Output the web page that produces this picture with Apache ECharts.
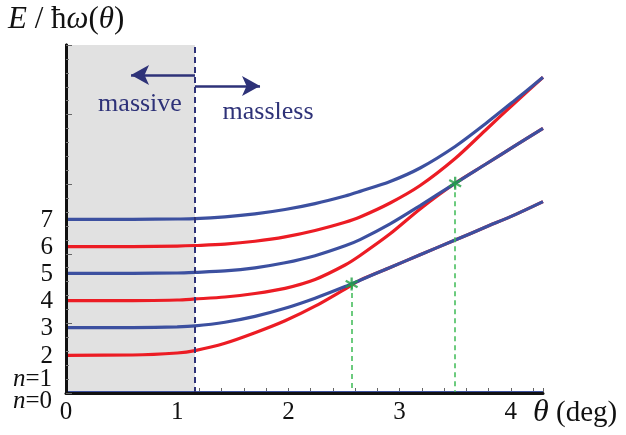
<!DOCTYPE html>
<html><head><meta charset="utf-8">
<script src="https://cdn.jsdelivr.net/npm/echarts@6/dist/echarts.min.js"></script>
<style>html,body{margin:0;padding:0;background:#fff}#c{width:626px;height:435px}</style>
</head><body><div id="c"></div>
<script>
// ---- data ----
const thetaDeg = [0, 0.6, 1.0, 1.16, 1.43, 1.7, 1.97, 2.24, 2.51, 2.645, 2.915, 3.185, 3.5, 3.77, 4.04, 4.29];
const level7 = [2.496, 2.496, 2.500, 2.504, 2.530, 2.573, 2.636, 2.721, 2.830, 2.897, 3.039, 3.233, 3.542, 3.865, 4.210, 4.536];
const level6 = [2.102, 2.103, 2.111, 2.119, 2.139, 2.180, 2.243, 2.335, 2.454, 2.529, 2.730, 2.981, 3.369, 3.772, 4.174, 4.536];
const level5 = [1.720, 1.720, 1.724, 1.733, 1.754, 1.799, 1.871, 1.973, 2.115, 2.204, 2.430, 2.693, 3.013, 3.283, 3.553, 3.803];
const level4 = [1.326, 1.328, 1.336, 1.351, 1.379, 1.430, 1.504, 1.631, 1.839, 1.976, 2.287, 2.644, 3.013, 3.283, 3.553, 3.803];
const level3 = [0.938, 0.940, 0.951, 0.964, 1.017, 1.101, 1.217, 1.362, 1.529, 1.621, 1.803, 1.986, 2.198, 2.381, 2.563, 2.749];
const level2 = [0.542, 0.546, 0.575, 0.609, 0.714, 0.865, 1.037, 1.247, 1.494, 1.621, 1.803, 1.986, 2.198, 2.381, 2.563, 2.749];
const groundTheta = [0, 4.29];
const level1 = [0, 0];
const level0 = [0, 0];
const starTheta = [2.569, 3.50];
const starE = [1.566, 3.013];
const boundaryTheta = 1.16;
const xTicks = ['0', '1', '2', '3', '4'];
const levelLabels = ['7', '6', '5', '4', '3', '2'];

// ---- build ----
const BLUE = '#3c50a0', RED = '#ec1c24', NAVY = '#2e3278', GREEN = '#22a045';
const FONT = 'Liberation Serif';
const pair = (xs, ys) => xs.map((x, i) => [x, ys[i]]);
const starPath = 'path://M-1,-6L1,-6L1,6L-1,6Z M4.696,-3.866L5.696,-2.134L-4.696,3.866L-5.696,2.134Z M5.696,2.134L4.696,3.866L-5.696,-2.134L-4.696,-3.866Z';

function curve(name, ys, color, z) {
  return { name, type: 'line', data: pair(thetaDeg, ys), smooth: 0.3,
    showSymbol: false, symbol: 'none', z, lineStyle: { color, width: 3.2 } };
}

const chart = echarts.init(document.getElementById('c'), null, { renderer: 'canvas' });
chart.setOption({
  animation: false,
  backgroundColor: '#fff',
  grid: { left: 66, right: 83, top: 45, bottom: 42 },
  xAxis: [
    { type: 'value', position: 'bottom', min: 0, max: 4.29, interval: 0.2,
      axisLine: { show: true, lineStyle: { color: '#111', width: 2 } },
      axisTick: { show: true, inside: true, length: 5, lineStyle: { color: '#666' } },
      splitLine: { show: false },
      axisLabel: { margin: 7, fontFamily: FONT, fontSize: 25, color: '#111',
        formatter: v => { const r = Math.round(v); return Math.abs(v - r) < 1e-6 && xTicks[r] !== undefined ? xTicks[r] : ''; } } },
    { type: 'value', position: 'top', min: 0, max: 4.29, z: 10,
      axisLine: { show: true, lineStyle: { color: '#111', width: 3 } },
      axisTick: { show: false }, axisLabel: { show: false }, splitLine: { show: false } }
  ],
  yAxis: [
    { type: 'value', position: 'left', min: 0, max: 5, interval: 1, z: 10,
      axisLine: { show: true, lineStyle: { color: '#111', width: 3 } },
      axisTick: { show: true, inside: true, length: 6, lineStyle: { color: '#666' } },
      minorTick: { show: true, splitNumber: 5, length: 3, lineStyle: { color: '#777' } },
      axisLabel: { show: false }, splitLine: { show: false } },
    { type: 'value', position: 'right', min: 0, max: 5, z: 10,
      axisLine: { show: true, lineStyle: { color: '#111', width: 3 } },
      axisTick: { show: false }, axisLabel: { show: false }, splitLine: { show: false } }
  ],
  series: [
    { name: 'n=0', type: 'line', data: pair(groundTheta, level0), showSymbol: false, symbol: 'none',
      clip: false, z: 1, lineStyle: { color: RED, width: 4 },
      markArea: { silent: true, itemStyle: { color: '#e1e1e1' }, data: [[{ xAxis: 0 }, { xAxis: boundaryTheta }]] },
      markLine: { silent: true, symbol: 'none', label: { show: false },
        lineStyle: { color: NAVY, type: [6, 4], width: 2 }, data: [{ xAxis: boundaryTheta }] } },
    curve('2', level2, RED, 2),
    curve('4', level4, RED, 2),
    curve('6', level6, RED, 2),
    curve('3', level3, BLUE, 3),
    curve('5', level5, BLUE, 3),
    curve('7', level7, BLUE, 3),
    { name: 'n=1', type: 'line', data: pair(groundTheta, level1), showSymbol: false, symbol: 'none',
      clip: true, z: 3, lineStyle: { color: BLUE, width: 4 },
      markLine: { silent: true, symbol: ['none', 'arrow'], symbolSize: [15, 18], label: { show: false },
        lineStyle: { color: NAVY, type: 'solid', width: 2.5 },
        data: [
          [{ coord: [boundaryTheta, 4.569] }, { coord: [0.585, 4.569] }],
          [{ coord: [boundaryTheta, 4.411] }, { coord: [1.745, 4.411] }]
        ] } },
    { name: 'crossing', type: 'scatter', data: pair(starTheta, starE), symbol: starPath, symbolSize: 13,
      z: 6, itemStyle: { color: GREEN },
      markLine: { silent: true, symbol: 'none', label: { show: false },
        lineStyle: { color: '#3cba54', type: [5, 4], width: 1.5 },
        data: starTheta.map((t, i) => [{ coord: [t, starE[i]] }, { coord: [t, 0] }]) } }
  ]
});

// ---- text annotations ----
const levelStarts = [level7[0], level6[0], level5[0], level4[0], level3[0], level2[0]];
const g = [];
levelLabels.forEach((lab, i) => {
  const p = chart.convertToPixel({ xAxisIndex: 0, yAxisIndex: 0 }, [0, levelStarts[i]]);
  g.push({ type: 'text', x: p[0] - 13, y: p[1] + 1, z: 20,
    style: { text: lab, fontFamily: FONT, fontSize: 25, fill: '#111', align: 'right', verticalAlign: 'middle' } });
});
const p0 = chart.convertToPixel({ xAxisIndex: 0, yAxisIndex: 0 }, [0, 0]);
g.push({ type: 'text', x: p0[0] - 14, y: p0[1] - 14, z: 20,
  style: { text: '{i|n}=1', rich: { i: { fontStyle: 'italic', fontFamily: FONT, fontSize: 25, fill: '#111' } },
    fontFamily: FONT, fontSize: 25, fill: '#111', align: 'right', verticalAlign: 'middle' } });
g.push({ type: 'text', x: p0[0] - 14, y: p0[1] + 8, z: 20,
  style: { text: '{i|n}=0', rich: { i: { fontStyle: 'italic', fontFamily: FONT, fontSize: 25, fill: '#111' } },
    fontFamily: FONT, fontSize: 25, fill: '#111', align: 'right', verticalAlign: 'middle' } });
g.push({ type: 'text', x: 8, y: 20, z: 20,
  style: { text: '{i|E} / ħ{i|ω}({i|θ})', rich: { i: { fontStyle: 'italic', fontFamily: FONT, fontSize: 31, fill: '#111' } },
    fontFamily: FONT, fontSize: 31, fill: '#111', align: 'left', verticalAlign: 'middle' } });
g.push({ type: 'text', x: 533, y: 413, z: 20,
  style: { text: '{i|θ} (deg)', rich: { i: { fontStyle: 'italic', fontFamily: FONT, fontSize: 32, fill: '#111' } },
    fontFamily: FONT, fontSize: 29, fill: '#111', align: 'left', verticalAlign: 'middle' } });
g.push({ type: 'text', x: 140, y: 104, z: 20,
  style: { text: 'massive', fontFamily: FONT, fontSize: 26, fill: NAVY, align: 'center', verticalAlign: 'middle' } });
g.push({ type: 'text', x: 268, y: 112, z: 20,
  style: { text: 'massless', fontFamily: FONT, fontSize: 26, fill: NAVY, align: 'center', verticalAlign: 'middle' } });
chart.setOption({ graphic: g });
</script></body></html>
